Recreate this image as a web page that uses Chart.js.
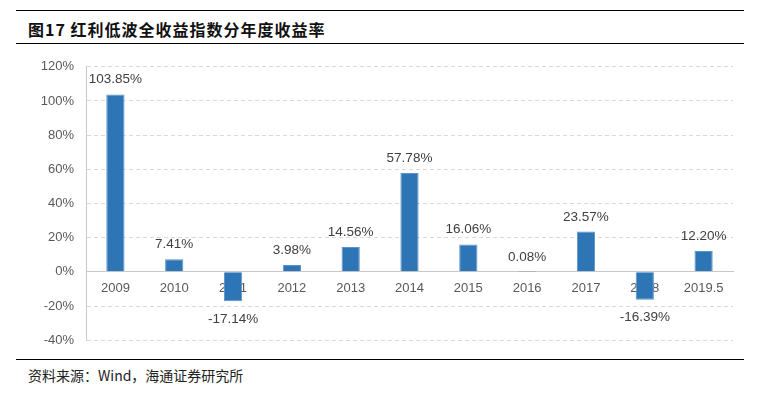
<!DOCTYPE html>
<html>
<head>
<meta charset="utf-8">
<script src="https://cdn.jsdelivr.net/npm/chart.js@4"></script>
<style>
  body { margin: 0; background: #fff; width: 758px; height: 394px; position: relative; overflow: hidden; }
  .rule { position: absolute; left: 16px; width: 728px; height: 0; border-top: 1.5px solid #000; }
  #titulo { position: absolute; left: 28px; top: 17px; font: bold 16px "Noto Sans CJK SC", sans-serif; color: #111; letter-spacing: 1px; }
  #fuente { position: absolute; left: 28px; top: 365px; font: 14px "Noto Sans CJK SC", sans-serif; color: #222; }
  #caja { position: absolute; left: 0; top: 47px; width: 758px; height: 313px; }
</style>
</head>
<body>
<div class="rule" style="top:10px"></div>
<div id="titulo">图17 红利低波全收益指数分年度收益率</div>
<div class="rule" style="top:43px"></div>
<div id="caja"><canvas id="grafico"></canvas></div>
<div class="rule" style="top:359px"></div>
<div id="fuente">资料来源：Wind，海通证券研究所</div>
<script>
const anios = ['2009', '2010', '2011', '2012', '2013', '2014', '2015', '2016', '2017', '2018', '2019.5'];
const rendimientos = [103.85, 7.41, -17.14, 3.98, 14.56, 57.78, 16.06, 0.08, 23.57, -16.39, 12.20];
const ticksY = [-40, -20, 0, 20, 40, 60, 80, 100, 120];

// etiquetas encima/debajo de cada barra
const etiquetas = {
  id: 'etiquetas',
  afterDatasetsDraw(chart) {
    const c = chart.ctx;
    const meta = chart.getDatasetMeta(0);
    c.save();
    c.font = '13.5px "Liberation Sans", Arial, sans-serif';
    c.fillStyle = '#404040';
    c.textAlign = 'center';
    meta.data.forEach((bar, i) => {
      const v = rendimientos[i];
      const txt = v.toFixed(2) + '%';
      if (v >= 0) {
        c.textBaseline = 'bottom';
        c.fillText(txt, bar.x, bar.y - 8);
      } else {
        c.textBaseline = 'top';
        c.fillText(txt, bar.x, bar.y + 11);
      }
    });
    c.restore();
  }
};

const ctx = document.getElementById('grafico').getContext('2d');
new Chart(ctx, {
  type: 'bar',
  data: {
    labels: anios,
    datasets: [{
      data: rendimientos,
      backgroundColor: '#2E75B6',
      borderColor: '#5B93C9',
      borderWidth: 1,
      barPercentage: 0.62,
      categoryPercentage: 0.5
    }]
  },
  options: {
    responsive: true,
    maintainAspectRatio: false,
    animation: false,
    layout: { padding: { left: 0, right: 25, top: 7, bottom: 4 } },
    plugins: { legend: { display: false }, tooltip: { enabled: false } },
    scales: {
      x: {
        position: { y: 0 },
        grid: { display: false },
        border: { display: true, color: '#c8c8c8', width: 1 },
        ticks: {
          color: '#595959',
          font: { size: 13, family: '"Liberation Sans", Arial, sans-serif' },
          padding: 1,
          maxRotation: 0
        }
      },
      y: {
        min: -40,
        max: 120,
        afterFit: s => { s.width = 86; },
        afterBuildTicks: s => { s.ticks = ticksY.map(v => ({ value: v })); },
        grid: { color: '#d9d9d9', drawTicks: false },
        border: { display: true, color: '#c8c8c8', dash: [4, 3] },
        ticks: {
          color: '#595959',
          font: { size: 13, family: '"Liberation Sans", Arial, sans-serif' },
          padding: 12,
          callback: v => v + '%'
        }
      }
    }
  },
  plugins: [etiquetas]
});
</script>
</body>
</html>
